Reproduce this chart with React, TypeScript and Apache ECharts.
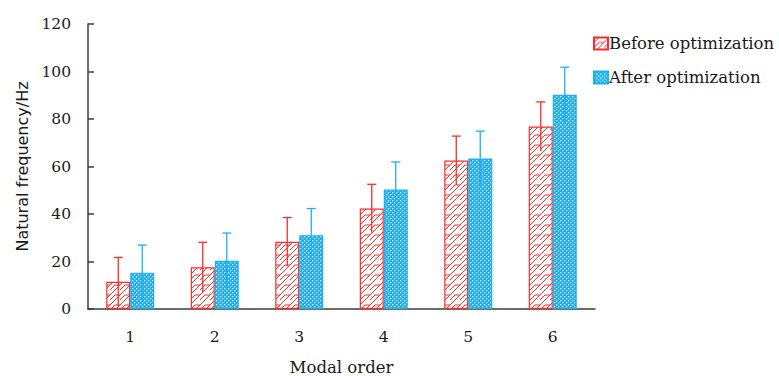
import React, { useEffect, useRef } from "react";
import * as echarts from "echarts";

const categories = ["1", "2", "3", "4", "5", "6"];
const beforeValues = [11.5, 17.6, 28.3, 42.3, 62.5, 76.8];
const beforeErrors = [10.2, 10.5, 10.2, 10.2, 10.3, 10.4];
const afterValues = [15.3, 20.3, 31.1, 50.3, 63.4, 90.2];
const afterErrors = [11.6, 11.7, 11.2, 11.6, 11.5, 11.6];
const seriesNames = ["Before optimization", "After optimization"];

const RED = "#ff2a2a";
const BLUE = "#1fb0ee";
const AXIS = "#3c3c3c";
const BAR_PCT = 0.284;

function svgUrl(svg: string) {
  return "data:image/svg+xml;charset=utf-8," + encodeURIComponent(svg);
}

const RED_TILE = 10;
const redPatternUrl = svgUrl(
  `<svg xmlns="http://www.w3.org/2000/svg" width="10" height="10" viewBox="0 0 10 10">` +
    `<rect width="10" height="10" fill="#ffffff"/>` +
    `<path d="M0 10 L5 5 L10 5 M5 10 L10 5 M0 5 L5 0 M-1 1 L1 -1" stroke="${RED}" stroke-width="1" fill="none"/>` +
    `</svg>`
);

const BLUE_TILE = 4;
const bluePatternUrl = svgUrl(
  `<svg xmlns="http://www.w3.org/2000/svg" width="4" height="4" viewBox="0 0 4 4">` +
    `<rect width="4" height="4" fill="${BLUE}"/>` +
    `<rect x="0" y="0" width="1.2" height="1.2" fill="#ffffff"/>` +
    `<rect x="2" y="2" width="1.2" height="1.2" fill="#ffffff"/>` +
    `</svg>`
);

function errorSeries(name: string, values: number[], errors: number[], color: string, side: number) {
  return {
    type: "custom",
    name: name + " err",
    z: 5,
    silent: true,
    data: values.map((v, i) => [i, v - errors[i], v + errors[i]]),
    renderItem: (params: any, api: any) => {
      const idx = api.value(0);
      const lo = api.coord([idx, api.value(1)]);
      const hi = api.coord([idx, api.value(2)]);
      const band = api.size([1, 0])[0];
      const x = lo[0] + side * band * BAR_PCT / 2;
      const cap = 4.5;
      return {
        type: "group",
        children: [
          { type: "line", shape: { x1: x, y1: lo[1], x2: x, y2: hi[1] }, style: { stroke: color, lineWidth: 1.3 } },
          { type: "line", shape: { x1: x - cap, y1: hi[1], x2: x + cap, y2: hi[1] }, style: { stroke: color, lineWidth: 1.3 } },
        ],
      };
    },
  };
}

export default function App() {
  const ref = useRef<HTMLDivElement>(null);
  useEffect(() => {
    if (!ref.current) return;
    const chart = echarts.init(ref.current, null, { renderer: "svg" });
    const redPat = { image: redPatternUrl, repeat: "repeat", imageWidth: RED_TILE, imageHeight: RED_TILE };
    const bluePat = { image: bluePatternUrl, repeat: "repeat", imageWidth: BLUE_TILE, imageHeight: BLUE_TILE };
    chart.setOption({
      animation: false,
      backgroundColor: "#ffffff",
      grid: { left: 88, right: 184, top: 24, bottom: 67, containLabel: false, outerBoundsMode: "none" },
      legend: {
        orient: "vertical",
        left: 588,
        top: 30,
        itemWidth: 14,
        itemHeight: 12,
        itemGap: 17,
        icon: "rect",
        data: seriesNames,
        textStyle: { fontFamily: "DejaVu Serif", fontSize: 16.5, color: "#1a1a1a", padding: [0, 0, 0, -4] },
      },
      xAxis: {
        type: "category",
        data: categories,
        name: "Modal order",
        nameLocation: "middle",
        nameGap: 50,
        nameTextStyle: { fontFamily: "DejaVu Serif", fontSize: 16.5, color: "#1a1a1a" },
        axisLine: { lineStyle: { color: AXIS, width: 1.5 } },
        axisTick: { inside: true, length: 6, lineStyle: { color: AXIS, width: 1.5 } },
        axisLabel: { fontFamily: "DejaVu Serif", fontSize: 15.5, color: "#1a1a1a", margin: 20 },
      },
      yAxis: {
        type: "value",
        min: 0,
        max: 120,
        interval: 20,
        name: "Natural frequency/Hz",
        nameLocation: "middle",
        nameGap: 56,
        nameTextStyle: { fontFamily: "DejaVu Sans", fontSize: 16, color: "#1a1a1a" },
        axisLine: { show: true, lineStyle: { color: AXIS, width: 1.5 } },
        axisTick: { show: true, inside: true, length: 6, lineStyle: { color: AXIS, width: 1.5 } },
        axisLabel: { fontFamily: "DejaVu Serif", fontSize: 15.5, color: "#1a1a1a", margin: 17 },
        splitLine: { show: false },
      },
      series: [
        {
          type: "bar",
          name: seriesNames[0],
          data: beforeValues,
          barWidth: BAR_PCT * 100 + "%",
          barGap: "0%",
          itemStyle: { color: redPat, borderColor: RED, borderWidth: 1.2 },
        },
        {
          type: "bar",
          name: seriesNames[1],
          data: afterValues,
          barWidth: BAR_PCT * 100 + "%",
          barGap: "0%",
          itemStyle: { color: bluePat, borderColor: BLUE, borderWidth: 1.2 },
        },
        errorSeries(seriesNames[0], beforeValues, beforeErrors, RED, -1),
        errorSeries(seriesNames[1], afterValues, afterErrors, BLUE, 1),
      ],
    });
    return () => chart.dispose();
  }, []);
  return <div ref={ref} style={{ width: 779, height: 376, position: "absolute", left: 0, top: 0 }} />;
}
